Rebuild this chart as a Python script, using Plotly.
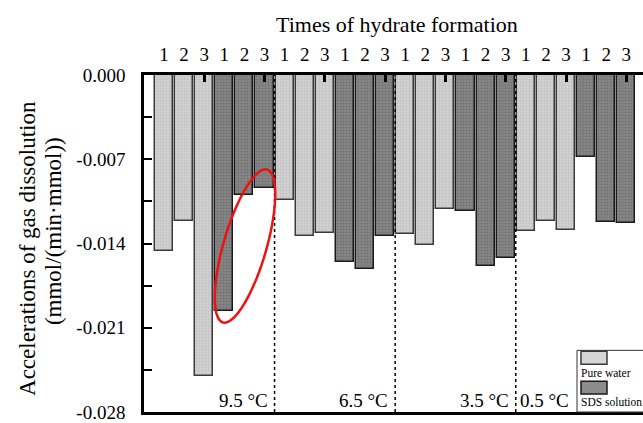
import math
import plotly.graph_objects as go

# ---- data -------------------------------------------------------------
temperatures = ["9.5 °C", "6.5 °C", "3.5 °C", "0.5 °C"]
times = ["1", "2", "3"]
pure_water = [
    [-0.0146, -0.0121, -0.0250],
    [-0.0104, -0.0134, -0.0131],
    [-0.0132, -0.0141, -0.0111],
    [-0.0130, -0.0121, -0.0129],
]
sds_solution = [
    [-0.0196, -0.0100, -0.0094],
    [-0.0155, -0.0161, -0.0134],
    [-0.0113, -0.0159, -0.0152],
    [-0.0068, -0.0122, -0.0123],
]
y_ticks = [0.0, -0.007, -0.014, -0.021, -0.028]
y_tick_labels = ["0.000", "-0.007", "-0.014", "-0.021", "-0.028"]

# ---- geometry ---------------------------------------------------------
W, H = 643, 423
L, R, T, B = 144, 643, 75, 414          # plot box edges in pixels
X_RANGE = [-0.995, 23.83]
Y_RANGE = [-0.028, 0.0]
FONT = "Liberation Serif, Times New Roman, serif"

n_t = len(times)
group = 2 * n_t
n_bars = group * len(temperatures)

pw_x, pw_y, sd_x, sd_y = [], [], [], []
for g, (pw, sd) in enumerate(zip(pure_water, sds_solution)):
    for i in range(n_t):
        pw_x.append(g * group + i)
        pw_y.append(pw[i])
        sd_x.append(g * group + n_t + i)
        sd_y.append(sd[i])


def px_to_x(px):
    return X_RANGE[0] + (px - L) / (R - L) * (X_RANGE[1] - X_RANGE[0])


def px_to_y(py):
    return Y_RANGE[1] - (py - T) / (B - T) * (Y_RANGE[1] - Y_RANGE[0])


def paper_x(px):
    return (px - L) / (R - L)


def paper_y(py):
    return (B - py) / (B - T)


fig = go.Figure()
fig.add_trace(go.Bar(
    x=pw_x, y=pw_y, width=0.9, name="Pure water",
    marker=dict(color="#d6d6d6",
                line=dict(color="#3a3a3a", width=1.5),
                pattern=dict(shape=".", fgcolor="#b0b0b0", size=3, solidity=0.5)),
    showlegend=False,
))
fig.add_trace(go.Bar(
    x=sd_x, y=sd_y, width=0.9, name="SDS solution",
    marker=dict(color="#8c8c8c",
                line=dict(color="#1a1a1a", width=1.5),
                pattern=dict(shape=".", fgcolor="#5c5c5c", size=3, solidity=0.5)),
    showlegend=False,
))

shapes = []
annotations = []

# dotted separators between temperature groups
for g in range(1, len(temperatures)):
    xb = g * group - 0.5
    shapes.append(dict(type="line", xref="x", yref="y", x0=xb, x1=xb,
                       y0=Y_RANGE[0], y1=Y_RANGE[1],
                       line=dict(color="black", width=1.5, dash="dot")))

# temperature labels at the bottom of each group
for g, label in enumerate(temperatures):
    if g < len(temperatures) - 1:
        annotations.append(dict(x=(g + 1) * group - 0.5, y=Y_RANGE[0], xref="x", yref="y",
                                text=label, showarrow=False, xanchor="right", yanchor="bottom",
                                xshift=-5, yshift=-1, font=dict(family=FONT, size=19, color="black")))
    else:
        annotations.append(dict(x=g * group - 0.5, y=Y_RANGE[0], xref="x", yref="y",
                                text=label, showarrow=False, xanchor="left", yanchor="bottom",
                                xshift=2, yshift=-1, font=dict(family=FONT, size=19, color="black")))

# red ellipse highlighting the SDS runs at 9.5 °C
cx, cy = 245, 247
a_ax, b_ax = 80, 21.5
ux, uy = 0.276, -0.961
vx, vy = -uy, ux
pts = []
for k in range(73):
    t = 2 * math.pi * k / 72
    px = cx + a_ax * math.cos(t) * ux + b_ax * math.sin(t) * vx
    py = cy + a_ax * math.cos(t) * uy + b_ax * math.sin(t) * vy
    pts.append((px_to_x(px), px_to_y(py)))
path = "M " + " L ".join(f"{x:.4f},{y:.6f}" for x, y in pts) + " Z"
shapes.append(dict(type="path", xref="x", yref="y", path=path,
                   line=dict(color="#ee1111", width=2.5)))

# legend box
lg_x0, lg_y0 = 577, 352
shapes.append(dict(type="rect", xref="paper", yref="paper",
                   x0=paper_x(lg_x0), x1=paper_x(660), y0=paper_y(B), y1=paper_y(lg_y0),
                   line=dict(color="#333333", width=1), fillcolor="white", layer="above"))
swatches = [("#d6d6d6", "#3a3a3a", 353, 366, "Pure water", 375),
            ("#8c8c8c", "#1a1a1a", 383, 396, "SDS solution", 404)]
for fill, edge, sy0, sy1, text, ty in swatches:
    shapes.append(dict(type="rect", xref="paper", yref="paper",
                       x0=paper_x(581), x1=paper_x(607), y0=paper_y(sy1), y1=paper_y(sy0),
                       line=dict(color=edge, width=1.5), fillcolor=fill, layer="above"))
    annotations.append(dict(x=paper_x(579), y=paper_y(ty), xref="paper", yref="paper",
                            text=text, showarrow=False, xanchor="left", yanchor="middle",
                            font=dict(family=FONT, size=11.5, color="black")))

# axis titles
annotations.append(dict(x=paper_x(397), y=paper_y(24), xref="paper", yref="paper",
                        text="Times of hydrate formation", showarrow=False,
                        xanchor="center", yanchor="middle",
                        font=dict(family=FONT, size=22, color="black")))
annotations.append(dict(x=paper_x(28), y=paper_y(250), xref="paper", yref="paper",
                        text="Accelerations of gas dissolution",
                        showarrow=False, textangle=-90, xanchor="center", yanchor="middle",
                        font=dict(family=FONT, size=23, color="black")))
annotations.append(dict(x=paper_x(53), y=paper_y(232), xref="paper", yref="paper",
                        text="(mmol/(min·mmol))",
                        showarrow=False, textangle=-90, xanchor="center", yanchor="middle",
                        font=dict(family=FONT, size=23, color="black")))

top_tick_pos = [i for i in range(n_bars) if i % n_t == n_t - 1]

fig.update_layout(
    width=W, height=H,
    margin=dict(l=L, r=W - R, t=T, b=H - B, pad=0),
    paper_bgcolor="white", plot_bgcolor="white",
    barmode="overlay", bargap=0,
    font=dict(family=FONT, size=19, color="black"),
    showlegend=False,
    shapes=shapes, annotations=annotations,
    xaxis=dict(range=X_RANGE, showgrid=False, zeroline=False, showticklabels=False,
               ticks="", showline=True, linecolor="black", linewidth=2.5, mirror=False),
    xaxis2=dict(range=X_RANGE, overlaying="x", side="top", anchor="y",
                tickmode="array", tickvals=list(range(n_bars)),
                ticktext=[times[i % n_t] for i in range(n_bars)],
                ticks="", showgrid=False, zeroline=False,
                showline=True, linecolor="black", linewidth=2.5,
                tickfont=dict(family=FONT, size=19, color="black"), ticklabelstandoff=4),
    xaxis3=dict(range=X_RANGE, overlaying="x", side="top", anchor="y",
                tickmode="array", tickvals=top_tick_pos, showticklabels=False,
                ticks="inside", ticklen=7, tickwidth=2.5, tickcolor="black",
                showgrid=False, zeroline=False, showline=False),
    yaxis=dict(range=Y_RANGE, showgrid=False, zeroline=False,
               tickmode="array", tickvals=y_ticks, ticktext=y_tick_labels,
               ticks="inside", ticklen=8, tickwidth=2, tickcolor="black",
               minor=dict(ticks="inside", ticklen=8, tickwidth=2, tickcolor="black",
                          tickvals=[(y_ticks[i] + y_ticks[i + 1]) / 2 for i in range(len(y_ticks) - 1)]),
               showline=True, linecolor="black", linewidth=2.5, ticklabeloverflow="allow",
               tickfont=dict(family=FONT, size=19, color="black"), ticklabelstandoff=12),
)

# attach overlay axes with empty traces so they render
fig.add_trace(go.Scatter(x=[None], y=[None], xaxis="x2", yaxis="y", showlegend=False, hoverinfo="skip"))
fig.add_trace(go.Scatter(x=[None], y=[None], xaxis="x3", yaxis="y", showlegend=False, hoverinfo="skip"))

fig.write_html("out.html")
